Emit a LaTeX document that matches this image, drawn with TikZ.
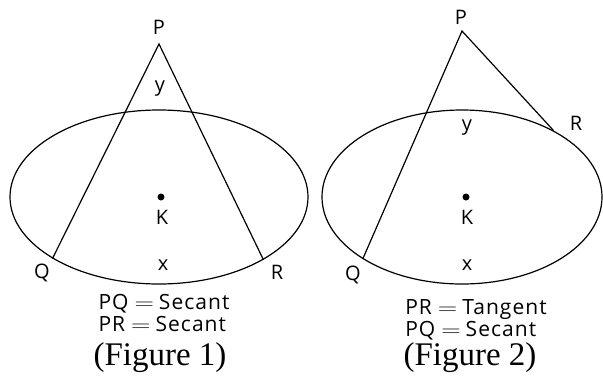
\documentclass[tikz,border=0pt]{standalone}
\usepackage{fontspec}
\setmainfont{Liberation Serif}
\setsansfont{Open Sans}
\usetikzlibrary{shapes.geometric}

\begin{document}
\begin{tikzpicture}[x=1pt,y=-1pt,
    circ/.style={draw,line width=1.2pt,ellipse,inner sep=0pt},
    seg/.style={line width=1.2pt},
    dot/.style={circle,fill,inner sep=0pt,minimum size=7pt},
    lbl/.style={font=\sffamily\fontsize{20}{20}\selectfont,inner sep=1pt},
    eqn/.style={font=\sffamily\fontsize{21}{21.5}\selectfont\addfontfeatures{LetterSpace=5},align=left},
    figcap/.style={font=\fontsize{33}{33}\selectfont}]
  \useasboundingbox (0,0) rectangle (603,381);

  % Figure 1
  \node[circ,minimum width=298pt,minimum height=174pt] (E1) at (159,197) {};
  \coordinate (P1) at (159,44);
  \coordinate (Q1) at (E1.210);
  \coordinate (R1) at (E1.-31);
  \draw[seg] (Q1) -- (P1) -- (R1);
  \node[dot] (K1) at (161,197) {};
  \node[lbl] (lP1) at (159,27) {P};
  \node[lbl] (ly1) at (160,89) {y};
  \node[lbl] (lK1) at (162,217) {K};
  \node[lbl] (lx1) at (163,265) {x};
  \node[lbl] (lQ1) at (42,273) {Q};
  \node[lbl] (lR1) at (277,272) {R};
  \node[eqn] (t1) at (164,313) {PQ\hspace{6pt}\scalebox{1.3}[1]{$=$}\hspace{5pt}Secant\\PR\hspace{6pt}\scalebox{1.3}[1]{$=$}\hspace{5pt}Secant};
  \node[figcap] (c1) at (160,358) {(Figure 1)};

  % Figure 2
  \node[circ,minimum width=280pt,minimum height=174pt] (E2) at (462,197) {};
  \coordinate (P2) at (462,31);
  \coordinate (Q2) at (E2.212);
  \coordinate (R2) at (E2.36);
  \draw[seg] (Q2) -- (P2) -- (R2);
  \node[dot] (K2) at (466,197) {};
  \node[lbl] (lP2) at (461,17) {P};
  \node[lbl] (ly2) at (467,128) {y};
  \node[lbl] (lK2) at (467,217) {K};
  \node[lbl] (lx2) at (467,265) {x};
  \node[lbl] (lQ2) at (353,275) {Q};
  \node[lbl] (lR2) at (576,123) {R};
  \node[eqn] (t2) at (476,320) {PR\hspace{6pt}\scalebox{1.3}[1]{$=$}\hspace{5pt}Tangent\\PQ\hspace{6pt}\scalebox{1.3}[1]{$=$}\hspace{5pt}Secant};
  \node[figcap] (c2) at (470,358) {(Figure 2)};
\end{tikzpicture}
\end{document}
